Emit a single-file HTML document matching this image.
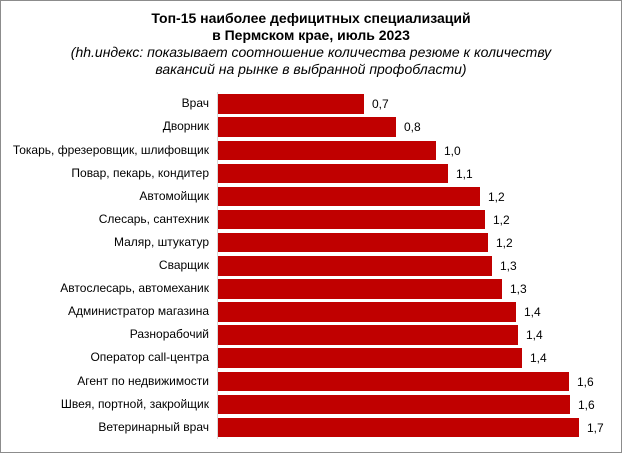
<!DOCTYPE html>
<html><head><meta charset="utf-8"><style>
body{margin:0;background:#fff;}
#c{position:relative;width:620px;height:451px;border:1px solid #8c8c8c;background:#fff;font-family:"Liberation Sans",Arial,sans-serif;overflow:hidden}
.t{position:absolute;left:0;width:620px;text-align:center;font-size:14px;color:#000}
.b{position:absolute;left:217px;height:19.5px;background:#c00000;}
.l{position:absolute;right:412px;font-size:12px;text-align:right;white-space:nowrap}
.v{position:absolute;font-size:12px}
</style></head><body><div id="c">
<div class="t" style="top:9px;font-weight:bold;line-height:17px">Топ-15 наиболее дефицитных специализаций<br>в Пермском крае, июль 2023</div>
<div class="t" style="top:43px;font-style:italic;line-height:17px">(hh.индекс: показывает соотношение количества резюме к количеству<br>вакансий на рынке в выбранной профобласти)</div>
<div style="position:absolute;left:216px;top:91px;width:1px;height:347px;background:#d9d9d9"></div>
<div id="bars"></div>
</div>
<script>
var d=[["Врач",363,"0,7"],["Дворник",395,"0,8"],["Токарь, фрезеровщик, шлифовщик",435,"1,0"],["Повар, пекарь, кондитер",447,"1,1"],["Автомойщик",479,"1,2"],["Слесарь, сантехник",484,"1,2"],["Маляр, штукатур",487,"1,2"],["Сварщик",491,"1,3"],["Автослесарь, автомеханик",501,"1,3"],["Администратор магазина",515,"1,4"],["Разнорабочий",517,"1,4"],["Оператор call-центра",521,"1,4"],["Агент по недвижимости",568,"1,6"],["Швея, портной, закройщик",569,"1,6"],["Ветеринарный врач",578,"1,7"]];
var h="";d.forEach(function(r,i){var y=93.3+i*23.1;
h+='<div class="b" style="top:'+y+'px;width:'+(r[1]-217)+'px"></div>';
h+='<div class="l" style="top:'+(y+2)+'px">'+r[0]+'</div>';
h+='<div class="v" style="top:'+(y+3)+'px;left:'+(r[1]+8)+'px">'+r[2]+'</div>';});
document.getElementById("c").insertAdjacentHTML("beforeend",h);
</script></body></html>
